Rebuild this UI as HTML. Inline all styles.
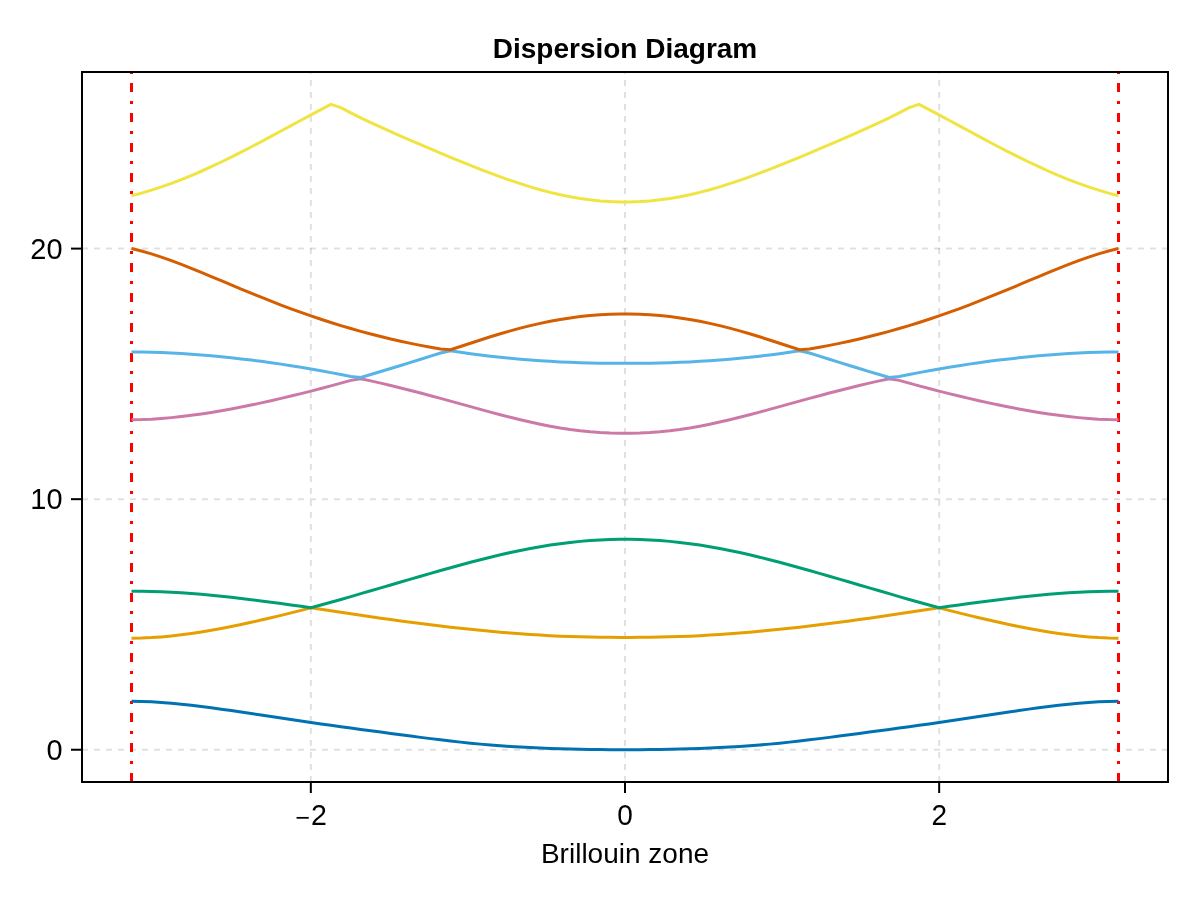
<!DOCTYPE html>
<html lang="en">
<head>
<meta charset="utf-8">
<title>Dispersion Diagram</title>
<style>
html,body{margin:0;padding:0;background:#fff;}
body{width:1200px;height:900px;overflow:hidden;}
svg{display:block;}
text{font-family:"Liberation Sans",Arial,Helvetica,sans-serif;font-size:28px;fill:#000;}
.title{font-weight:bold;}
</style>
</head>
<body>
<svg width="1200" height="900" viewBox="0 0 1200 900">
<rect x="0" y="0" width="1200" height="900" fill="#ffffff"/>
<g stroke="#000000" stroke-opacity="0.12" stroke-width="2" stroke-dasharray="6 6" fill="none">
<line x1="310.83" y1="782.0" x2="310.83" y2="72.0"/>
<line x1="625.00" y1="782.0" x2="625.00" y2="72.0"/>
<line x1="939.17" y1="782.0" x2="939.17" y2="72.0"/>
<line x1="82.0" y1="749.73" x2="1168.0" y2="749.73"/>
<line x1="82.0" y1="499.17" x2="1168.0" y2="499.17"/>
<line x1="82.0" y1="248.61" x2="1168.0" y2="248.61"/>
</g>
<g stroke="#ff0000" stroke-width="3" stroke-dasharray="9 9 3 9" fill="none">
<line x1="131.50" y1="782.0" x2="131.50" y2="72.0"/>
<line x1="1118.50" y1="782.0" x2="1118.50" y2="72.0"/>
</g>
<g>
<polyline points="131.50,701.35 141.47,701.48 151.44,701.84 161.41,702.43 171.38,703.22 181.35,704.17 191.32,705.26 201.29,706.46 211.26,707.76 221.23,709.14 231.20,710.58 241.17,712.06 251.14,713.56 261.11,715.08 271.08,716.59 281.05,718.10 291.02,719.58 300.98,721.04 310.95,722.48 320.92,723.90 330.89,725.30 340.86,726.68 350.83,728.04 360.80,729.40 370.77,730.75 380.74,732.10 390.71,733.44 400.68,734.76 410.65,736.08 420.62,737.37 430.59,738.63 440.56,739.85 450.53,741.02 460.50,742.13 470.47,743.17 480.44,744.13 490.41,745.01 500.38,745.79 510.35,746.49 520.32,747.10 530.29,747.61 540.26,748.05 550.23,748.41 560.20,748.72 570.17,748.98 580.14,749.19 590.11,749.38 600.08,749.53 610.05,749.64 620.02,749.69 629.98,749.69 639.95,749.64 649.92,749.53 659.89,749.38 669.86,749.19 679.83,748.98 689.80,748.72 699.77,748.41 709.74,748.05 719.71,747.61 729.68,747.10 739.65,746.49 749.62,745.79 759.59,745.01 769.56,744.13 779.53,743.17 789.50,742.13 799.47,741.02 809.44,739.85 819.41,738.63 829.38,737.37 839.35,736.08 849.32,734.76 859.29,733.44 869.26,732.10 879.23,730.75 889.20,729.40 899.17,728.04 909.14,726.68 919.11,725.30 929.08,723.90 939.05,722.48 949.02,721.04 958.98,719.58 968.95,718.10 978.92,716.59 988.89,715.08 998.86,713.56 1008.83,712.06 1018.80,710.58 1028.77,709.14 1038.74,707.76 1048.71,706.46 1058.68,705.26 1068.65,704.17 1078.62,703.22 1088.59,702.43 1098.56,701.84 1108.53,701.48 1118.50,701.35" fill="none" stroke="#0072B2" stroke-width="3" stroke-linejoin="miter" stroke-linecap="butt"/>
<polyline points="131.50,638.20 141.47,638.05 151.44,637.61 161.41,636.89 171.38,635.95 181.35,634.79 191.32,633.45 201.29,631.94 211.26,630.27 221.23,628.46 231.20,626.52 241.17,624.47 251.14,622.31 261.11,620.07 271.08,617.75 281.05,615.37 291.02,612.91 300.98,610.37 310.95,607.75 320.92,609.23 330.89,610.73 340.86,612.24 350.83,613.75 360.80,615.25 370.77,616.72 380.74,618.15 390.71,619.55 400.68,620.92 410.65,622.25 420.62,623.54 430.59,624.80 440.56,626.00 450.53,627.17 460.50,628.28 470.47,629.34 480.44,630.35 490.41,631.30 500.38,632.19 510.35,633.02 520.32,633.78 530.29,634.48 540.26,635.11 550.23,635.66 560.20,636.14 570.17,636.53 580.14,636.85 590.11,637.08 600.08,637.25 610.05,637.35 620.02,637.39 629.98,637.39 639.95,637.35 649.92,637.25 659.89,637.08 669.86,636.85 679.83,636.53 689.80,636.14 699.77,635.66 709.74,635.11 719.71,634.48 729.68,633.78 739.65,633.02 749.62,632.19 759.59,631.30 769.56,630.35 779.53,629.34 789.50,628.28 799.47,627.17 809.44,626.00 819.41,624.80 829.38,623.54 839.35,622.25 849.32,620.92 859.29,619.55 869.26,618.15 879.23,616.72 889.20,615.25 899.17,613.75 909.14,612.24 919.11,610.73 929.08,609.23 939.05,607.75 949.02,610.37 958.98,612.91 968.95,615.37 978.92,617.75 988.89,620.07 998.86,622.31 1008.83,624.47 1018.80,626.52 1028.77,628.46 1038.74,630.27 1048.71,631.94 1058.68,633.45 1068.65,634.79 1078.62,635.95 1088.59,636.89 1098.56,637.61 1108.53,638.05 1118.50,638.20" fill="none" stroke="#E69F00" stroke-width="3" stroke-linejoin="miter" stroke-linecap="butt"/>
<polyline points="131.50,591.20 141.47,591.27 151.44,591.47 161.41,591.79 171.38,592.25 181.35,592.83 191.32,593.52 201.29,594.33 211.26,595.23 221.23,596.23 231.20,597.31 241.17,598.46 251.14,599.66 261.11,600.92 271.08,602.21 281.05,603.54 291.02,604.90 300.98,606.31 310.95,607.75 320.92,605.05 330.89,602.27 340.86,599.44 350.83,596.57 360.80,593.68 370.77,590.77 380.74,587.86 390.71,584.95 400.68,582.04 410.65,579.14 420.62,576.24 430.59,573.37 440.56,570.52 450.53,567.72 460.50,564.98 470.47,562.30 480.44,559.71 490.41,557.21 500.38,554.83 510.35,552.58 520.32,550.46 530.29,548.50 540.26,546.71 550.23,545.09 560.20,543.65 570.17,542.42 580.14,541.38 590.11,540.56 600.08,539.94 610.05,539.53 620.02,539.33 629.98,539.33 639.95,539.53 649.92,539.94 659.89,540.56 669.86,541.38 679.83,542.42 689.80,543.65 699.77,545.09 709.74,546.71 719.71,548.50 729.68,550.46 739.65,552.58 749.62,554.83 759.59,557.21 769.56,559.71 779.53,562.30 789.50,564.98 799.47,567.72 809.44,570.52 819.41,573.37 829.38,576.24 839.35,579.14 849.32,582.04 859.29,584.95 869.26,587.86 879.23,590.77 889.20,593.68 899.17,596.57 909.14,599.44 919.11,602.27 929.08,605.05 939.05,607.75 949.02,606.31 958.98,604.90 968.95,603.54 978.92,602.21 988.89,600.92 998.86,599.66 1008.83,598.46 1018.80,597.31 1028.77,596.23 1038.74,595.23 1048.71,594.33 1058.68,593.52 1068.65,592.83 1078.62,592.25 1088.59,591.79 1098.56,591.47 1108.53,591.27 1118.50,591.20" fill="none" stroke="#009E73" stroke-width="3" stroke-linejoin="miter" stroke-linecap="butt"/>
<polyline points="131.50,419.70 141.47,419.56 151.44,419.15 161.41,418.49 171.38,417.62 181.35,416.55 191.32,415.32 201.29,413.93 211.26,412.41 221.23,410.74 231.20,408.95 241.17,407.04 251.14,405.02 261.11,402.90 271.08,400.69 281.05,398.40 291.02,396.03 300.98,393.59 310.95,391.09 320.92,388.51 330.89,385.87 340.86,383.16 350.83,380.37 360.80,378.70 370.77,380.89 380.74,383.16 390.71,385.51 400.68,387.95 410.65,390.46 420.62,393.04 430.59,395.69 440.56,398.40 450.53,401.14 460.50,403.90 470.47,406.66 480.44,409.40 490.41,412.11 500.38,414.75 510.35,417.30 520.32,419.74 530.29,422.06 540.26,424.21 550.23,426.18 560.20,427.95 570.17,429.49 580.14,430.78 590.11,431.82 600.08,432.60 610.05,433.11 620.02,433.37 629.98,433.37 639.95,433.11 649.92,432.60 659.89,431.82 669.86,430.78 679.83,429.49 689.80,427.95 699.77,426.18 709.74,424.21 719.71,422.06 729.68,419.74 739.65,417.30 749.62,414.75 759.59,412.11 769.56,409.40 779.53,406.66 789.50,403.90 799.47,401.14 809.44,398.40 819.41,395.69 829.38,393.04 839.35,390.46 849.32,387.95 859.29,385.51 869.26,383.16 879.23,380.89 889.20,378.70 899.17,380.37 909.14,383.16 919.11,385.87 929.08,388.51 939.05,391.09 949.02,393.59 958.98,396.03 968.95,398.40 978.92,400.69 988.89,402.90 998.86,405.02 1008.83,407.04 1018.80,408.95 1028.77,410.74 1038.74,412.41 1048.71,413.93 1058.68,415.32 1068.65,416.55 1078.62,417.62 1088.59,418.49 1098.56,419.15 1108.53,419.56 1118.50,419.70" fill="none" stroke="#CC79A7" stroke-width="3" stroke-linejoin="miter" stroke-linecap="butt"/>
<polyline points="131.50,351.90 141.47,351.97 151.44,352.19 161.41,352.55 171.38,353.02 181.35,353.59 191.32,354.26 201.29,355.02 211.26,355.86 221.23,356.79 231.20,357.80 241.17,358.90 251.14,360.09 261.11,361.35 271.08,362.70 281.05,364.14 291.02,365.65 300.98,367.26 310.95,368.95 320.92,370.73 330.89,372.60 340.86,374.55 350.83,376.59 360.80,377.50 370.77,374.56 380.74,371.56 390.71,368.52 400.68,365.46 410.65,362.38 420.62,359.29 430.59,356.17 440.56,353.01 450.53,350.70 460.50,352.23 470.47,353.65 480.44,354.95 490.41,356.15 500.38,357.26 510.35,358.26 520.32,359.18 530.29,360.00 540.26,360.73 550.23,361.37 560.20,361.91 570.17,362.35 580.14,362.70 590.11,362.96 600.08,363.14 610.05,363.24 620.02,363.29 629.98,363.29 639.95,363.24 649.92,363.14 659.89,362.96 669.86,362.70 679.83,362.35 689.80,361.91 699.77,361.37 709.74,360.73 719.71,360.00 729.68,359.18 739.65,358.26 749.62,357.26 759.59,356.15 769.56,354.95 779.53,353.65 789.50,352.23 799.47,350.70 809.44,353.01 819.41,356.17 829.38,359.29 839.35,362.38 849.32,365.46 859.29,368.52 869.26,371.56 879.23,374.56 889.20,377.50 899.17,376.59 909.14,374.55 919.11,372.60 929.08,370.73 939.05,368.95 949.02,367.26 958.98,365.65 968.95,364.14 978.92,362.70 988.89,361.35 998.86,360.09 1008.83,358.90 1018.80,357.80 1028.77,356.79 1038.74,355.86 1048.71,355.02 1058.68,354.26 1068.65,353.59 1078.62,353.02 1088.59,352.55 1098.56,352.19 1108.53,351.97 1118.50,351.90" fill="none" stroke="#56B4E9" stroke-width="3" stroke-linejoin="miter" stroke-linecap="butt"/>
<polyline points="131.50,248.50 141.47,250.97 151.44,253.86 161.41,257.12 171.38,260.65 181.35,264.42 191.32,268.36 201.29,272.42 211.26,276.56 221.23,280.73 231.20,284.92 241.17,289.08 251.14,293.19 261.11,297.23 271.08,301.19 281.05,305.05 291.02,308.79 300.98,312.41 310.95,315.91 320.92,319.27 330.89,322.50 340.86,325.58 350.83,328.53 360.80,331.34 370.77,334.01 380.74,336.55 390.71,338.95 400.68,341.22 410.65,343.37 420.62,345.39 430.59,347.28 440.56,349.06 450.53,349.79 460.50,346.52 470.47,343.23 480.44,339.97 490.41,336.79 500.38,333.73 510.35,330.84 520.32,328.14 530.29,325.64 540.26,323.36 550.23,321.30 560.20,319.49 570.17,317.92 580.14,316.61 590.11,315.57 600.08,314.80 610.05,314.29 620.02,314.03 629.98,314.03 639.95,314.29 649.92,314.80 659.89,315.57 669.86,316.61 679.83,317.92 689.80,319.49 699.77,321.30 709.74,323.36 719.71,325.64 729.68,328.14 739.65,330.84 749.62,333.73 759.59,336.79 769.56,339.97 779.53,343.23 789.50,346.52 799.47,349.79 809.44,349.06 819.41,347.28 829.38,345.39 839.35,343.37 849.32,341.22 859.29,338.95 869.26,336.55 879.23,334.01 889.20,331.34 899.17,328.53 909.14,325.58 919.11,322.50 929.08,319.27 939.05,315.91 949.02,312.41 958.98,308.79 968.95,305.05 978.92,301.19 988.89,297.23 998.86,293.19 1008.83,289.08 1018.80,284.92 1028.77,280.73 1038.74,276.56 1048.71,272.42 1058.68,268.36 1068.65,264.42 1078.62,260.65 1088.59,257.12 1098.56,253.86 1108.53,250.97 1118.50,248.50" fill="none" stroke="#D55E00" stroke-width="3" stroke-linejoin="miter" stroke-linecap="butt"/>
<polyline points="131.50,195.70 141.47,193.10 151.44,190.17 161.41,186.95 171.38,183.42 181.35,179.62 191.32,175.56 201.29,171.25 211.26,166.73 221.23,162.01 231.20,157.13 241.17,152.11 251.14,146.97 261.11,141.73 271.08,136.41 281.05,131.05 291.02,125.66 300.98,120.26 310.95,114.88 320.92,109.56 330.89,104.30 340.86,107.68 350.83,112.91 360.80,117.87 370.77,122.62 380.74,127.22 390.71,131.70 400.68,136.10 410.65,140.42 420.62,144.70 430.59,148.94 440.56,153.13 450.53,157.28 460.50,161.37 470.47,165.40 480.44,169.33 490.41,173.14 500.38,176.83 510.35,180.35 520.32,183.69 530.29,186.82 540.26,189.72 550.23,192.35 560.20,194.70 570.17,196.75 580.14,198.47 590.11,199.86 600.08,200.91 610.05,201.61 620.02,201.96 629.98,201.96 639.95,201.61 649.92,200.91 659.89,199.86 669.86,198.47 679.83,196.75 689.80,194.70 699.77,192.35 709.74,189.72 719.71,186.82 729.68,183.69 739.65,180.35 749.62,176.83 759.59,173.14 769.56,169.33 779.53,165.40 789.50,161.37 799.47,157.28 809.44,153.13 819.41,148.94 829.38,144.70 839.35,140.42 849.32,136.10 859.29,131.70 869.26,127.22 879.23,122.62 889.20,117.87 899.17,112.91 909.14,107.68 919.11,104.30 929.08,109.56 939.05,114.88 949.02,120.26 958.98,125.66 968.95,131.05 978.92,136.41 988.89,141.73 998.86,146.97 1008.83,152.11 1018.80,157.13 1028.77,162.01 1038.74,166.73 1048.71,171.25 1058.68,175.56 1068.65,179.62 1078.62,183.42 1088.59,186.95 1098.56,190.17 1108.53,193.10 1118.50,195.70" fill="none" stroke="#F0E442" stroke-width="3" stroke-linejoin="miter" stroke-linecap="butt"/>
</g>
<g stroke="#000000" stroke-width="2" fill="none">
<line x1="310.83" y1="782.0" x2="310.83" y2="793.0"/>
<line x1="625.00" y1="782.0" x2="625.00" y2="793.0"/>
<line x1="939.17" y1="782.0" x2="939.17" y2="793.0"/>
<line x1="71.0" y1="749.73" x2="82.0" y2="749.73"/>
<line x1="71.0" y1="499.17" x2="82.0" y2="499.17"/>
<line x1="71.0" y1="248.61" x2="82.0" y2="248.61"/>
</g>
<rect x="82.0" y="72.0" width="1086.0" height="710.0" fill="none" stroke="#000000" stroke-width="2"/>
<text class="title" x="625" y="58" text-anchor="middle">Dispersion Diagram</text>
<g><text transform="translate(295.6,825.5)" style="font-size:25px" text-anchor="start">−</text><text transform="translate(318.9,825) scale(1.02,1.055)" text-anchor="middle">2</text><text transform="translate(625.00,825) scale(1,1.055)" text-anchor="middle">0</text><text transform="translate(939.17,825) scale(1,1.055)" text-anchor="middle">2</text></g>
<g><text transform="translate(62.6,760.03) scale(1.035,1.055)" text-anchor="end">0</text><text transform="translate(62.6,509.47) scale(1.035,1.055)" text-anchor="end">10</text><text transform="translate(62.6,258.91) scale(1.035,1.055)" text-anchor="end">20</text></g>
<text x="625" y="862.8" text-anchor="middle">Brillouin zone</text>
</svg>
</body>
</html>
